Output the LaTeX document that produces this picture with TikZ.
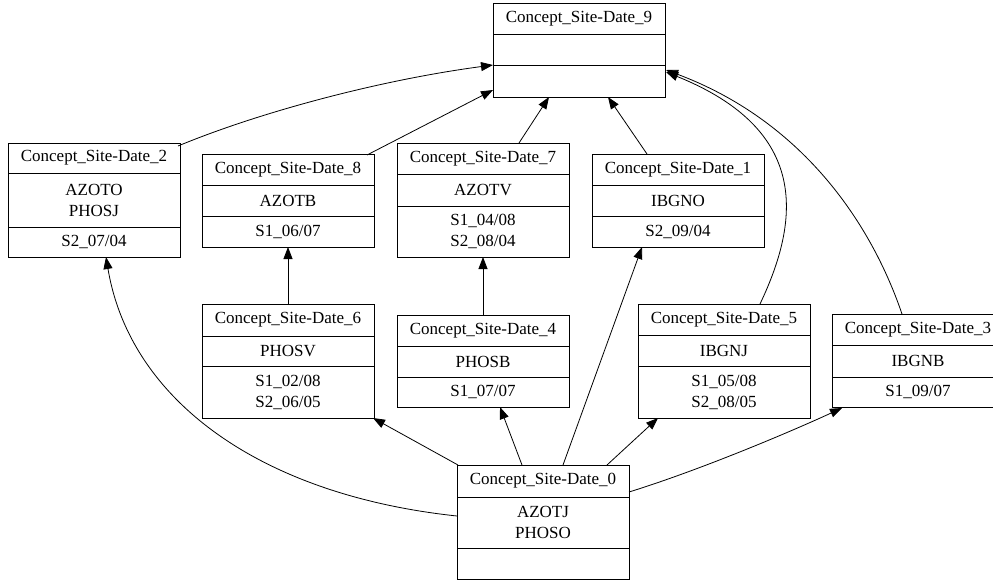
\documentclass[tikz,border=0pt]{standalone}
\usepackage{fontspec}
\setmainfont{Liberation Serif}
\usetikzlibrary{calc,arrows.meta}
\tikzset{
  cbox/.style={draw, line width=0.9pt, anchor=north west, minimum width=172pt, inner sep=0pt, outer sep=0pt},
  cline/.style={line width=0.9pt},
  ctxt/.style={inner sep=0pt, align=center, font=\fontsize{17}{21}\selectfont},
  arr/.style={line width=0.8pt, -{Triangle[length=12pt,width=9pt]}, shorten >=0pt}
}
% #1 name, #2 left x, #3 top y, #4 divider 1, #5 divider 2, #6 bottom, #7 header, #8 attrs, #9 objects
\newcommand\concept[9]{%
  \node[cbox, minimum height=#6pt-#3pt] (#1) at (#2,#3) {};
  \draw[cline] (#2,#4) -- ++(172,0);
  \draw[cline] (#2,#5) -- ++(172,0);
  \node[ctxt] (#1-h) at ({#2+86},{(#3+#4)/2}) {#7};
  \node[ctxt] (#1-a) at ({#2+86},{(#4+#5)/2}) {#8};
  \node[ctxt] (#1-o) at ({#2+86},{(#5+#6)/2}) {#9};
}
\begin{document}
\begin{tikzpicture}[x=1pt,y=-1pt]
\useasboundingbox (0,0) rectangle (993,582);
\fill[white] (0,0) rectangle (993,582);
\concept{n9}{493}{3}{34}{65}{97}{Concept\_Site-Date\_9}{}{}
\concept{n2}{8}{143}{173}{227}{257}{Concept\_Site-Date\_2}{AZOTO\\PHOSJ}{S2\_07/04}
\concept{n8}{202}{154}{185}{216}{247}{Concept\_Site-Date\_8}{AZOTB}{S1\_06/07}
\concept{n7}{397}{143}{174}{206}{257}{Concept\_Site-Date\_7}{AZOTV}{S1\_04/08\\S2\_08/04}
\concept{n1}{592}{154}{185}{216}{247}{Concept\_Site-Date\_1}{IBGNO}{S2\_09/04}
\concept{n6}{202}{304}{336}{366}{418}{Concept\_Site-Date\_6}{PHOSV}{S1\_02/08\\S2\_06/05}
\concept{n4}{397}{315}{346}{377}{407}{Concept\_Site-Date\_4}{PHOSB}{S1\_07/07}
\concept{n5}{638}{304}{335}{366}{418}{Concept\_Site-Date\_5}{IBGNJ}{S1\_05/08\\S2\_08/05}
\concept{n3}{832}{314}{345}{377}{407}{Concept\_Site-Date\_3}{IBGNB}{S1\_09/07}
\concept{n0}{457}{465}{497}{548}{579}{Concept\_Site-Date\_0}{AZOTJ\\PHOSO}{}

% edges to n9
\draw[arr] ($(n2.north east)+(-2,3)$) .. controls (260,112) and (380,80) .. ($(n9.north west)+(0,62)$);
\draw[arr] ($(n8.north west)+(165,1)$) -- ($(n9.north west)+(0,87)$);
\draw[arr] ($(n7.north west)+(122,0)$) -- ($(n9.south west)+(56,0)$);
\draw[arr] ($(n1.north west)+(55,0)$) -- ($(n9.south west)+(115,0)$);
\draw[arr] ($(n5.north west)+(122,0)$) .. controls (800,220) and (810,130) .. ($(n9.north east)+(1,69)$);
\draw[arr] ($(n3.north west)+(70,0)$) .. controls (870,220) and (800,120) .. ($(n9.north east)+(1,67)$);
% other edges
\draw[arr] (n6.north) -- (n8.south);
\draw[arr] (n4.north) -- (n7.south);
\draw[arr] ($(n0.north west)+(0,51)$) .. controls (260,495) and (130,400) .. ($(n2.south west)+(98,0)$);
\draw[arr] ($(n0.north west)+(1,0)$) -- ($(n6.south east)+(-1,0)$);
\draw[arr] ($(n0.north west)+(65,0)$) -- ($(n4.south west)+(103,0)$);
\draw[arr] ($(n0.north west)+(106,0)$) -- ($(n1.south west)+(50,0)$);
\draw[arr] ($(n0.north west)+(150,0)$) -- ($(n5.south west)+(20,0)$);
\draw[arr] ($(n0.north east)+(0,27)$) .. controls (700,470) and (790,432) .. ($(n3.south west)+(10,1)$);
\end{tikzpicture}
\end{document}
